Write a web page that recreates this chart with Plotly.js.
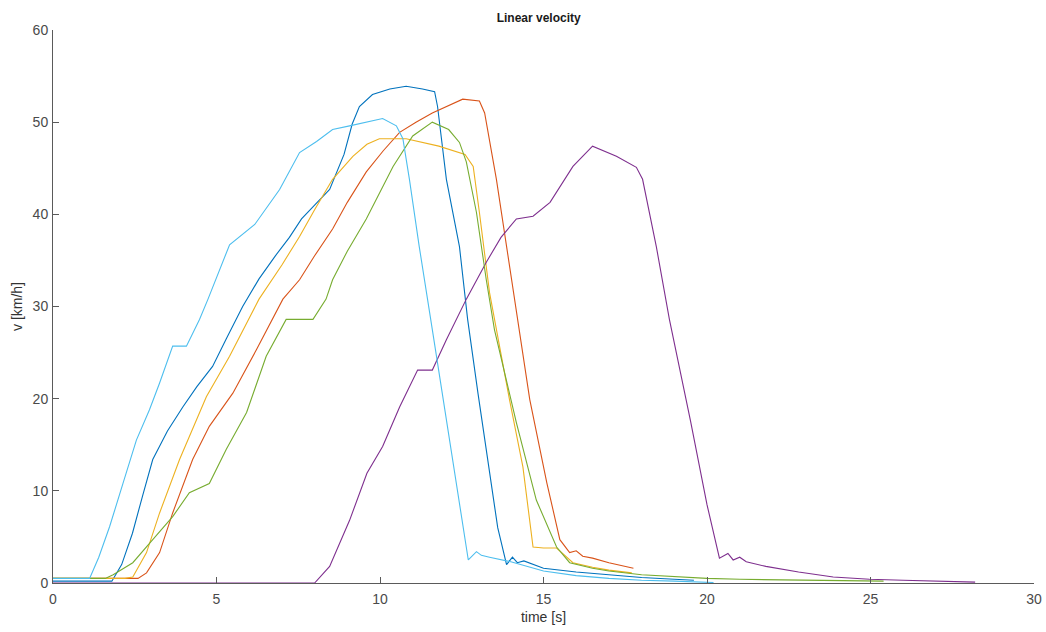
<!DOCTYPE html>
<html><head><meta charset="utf-8">
<script src="https://cdn.plot.ly/plotly-3.0.1.min.js"></script>
<style>html,body{margin:0;padding:0;background:#fff}#chart{width:1046px;height:632px}</style>
</head><body><div id="chart"></div>
<script>
// Series 1 (blue)
const t1 = [0,1.8,2.1,2.43,2.75,3.05,3.5,3.97,4.4,4.88,5.3,5.8,6.3,6.8,7.23,7.6,8.0,8.46,8.9,9.15,9.37,9.77,10.3,10.8,11.3,11.67,11.76,12.03,12.43,12.68,13.0,13.3,13.6,13.87,14.05,14.2,14.4,15,16,17,18,19,19.6];
const v1 = [0.2,0.2,2.0,5.4,9.6,13.4,16.5,19.1,21.3,23.5,26.5,30,33,35.5,37.5,39.5,41.0,42.7,46.5,49.8,51.7,53.0,53.6,53.9,53.6,53.3,51.7,43.8,36.5,28.6,20.5,13.0,6.0,2.0,2.8,2.2,2.4,1.6,1.2,0.9,0.6,0.4,0.3];
// Series 2 (orange)
const t2 = [0,2.6,2.86,3.26,3.66,4.27,4.78,5.5,6.22,7.03,7.54,8.0,8.55,9.0,9.58,10.1,10.6,11.1,11.6,12.1,12.53,13.04,13.2,13.56,13.87,14.17,14.58,15.1,15.5,15.8,16.0,16.2,16.5,17.0,17.4,17.75];
const v2 = [0.5,0.5,1.1,3.3,7.6,13.4,17.0,20.6,25.3,30.8,32.9,35.5,38.4,41.3,44.6,46.9,48.9,50.0,51.0,51.8,52.5,52.3,51.0,43.8,36.5,29.5,19.9,10.9,4.7,3.3,3.5,2.9,2.7,2.2,1.9,1.6];
// Series 3 (yellow)
const t3 = [0,2.2,2.44,2.86,3.26,3.87,4.69,5.4,6.3,7.0,7.54,8.0,8.55,9.17,9.6,9.98,10.8,11.8,12.6,12.85,13.04,13.35,13.96,14.37,14.68,15.0,15.4,15.9,16.5,17.0,17.7];
const v3 = [0.5,0.5,0.65,3.3,7.6,13.4,20.2,24.6,30.8,34.5,37.6,40.5,43.8,46.3,47.6,48.2,48.2,47.4,46.5,45.2,40.2,31.5,19.9,12.6,3.9,3.8,3.8,2.2,1.7,1.4,1.1];
// Series 4 (purple)
const t4 = [0,8.0,8.46,9.07,9.6,10.08,10.6,11.15,11.6,12.03,12.64,13.25,13.7,14.17,14.68,15.2,15.9,16.5,17.23,17.84,18.03,18.45,18.85,19.5,20.0,20.38,20.64,20.8,21.0,21.2,21.8,22.8,23.86,24.97,26.0,26.9,28.2];
const v4 = [0,0,1.8,6.8,11.9,14.8,19.1,23.1,23.1,26.4,30.8,34.8,37.5,39.5,39.8,41.3,45.2,47.4,46.3,45.1,43.8,36.5,28.6,17.5,8.5,2.7,3.2,2.5,2.8,2.3,1.8,1.2,0.65,0.4,0.3,0.2,0.1];
// Series 5 (green)
const t5 = [0,1.6,1.84,2.44,3.05,3.66,4.17,4.78,5.3,5.92,6.52,7.13,7.95,8.35,8.55,9.0,9.58,10.0,10.4,11.0,11.6,12.1,12.43,12.64,12.95,13.25,13.5,14.17,14.78,15.4,15.8,16.5,17,18,19,20,21,22,23,24,25.4];
const v5 = [0.5,0.5,0.9,2.2,4.7,7.2,9.8,10.8,14.5,18.5,24.6,28.6,28.6,30.8,32.9,36.0,39.5,42.5,45.2,48.5,50.0,49.2,47.8,45.7,40.2,32.9,27.5,17.4,9.0,3.9,2.2,1.6,1.3,0.9,0.7,0.5,0.4,0.35,0.3,0.25,0.2];
// Series 6 (light blue)
const t6 = [0,1.12,1.4,1.73,2.14,2.55,2.95,3.26,3.66,4.08,4.48,4.74,5.4,6.17,6.93,7.54,8.06,8.55,9.07,9.6,10.08,10.5,10.7,10.9,11.2,11.6,12.0,12.4,12.7,12.95,13.1,13.35,13.6,14.0,15,16,17,18,19,20.2];
const v6 = [0.5,0.5,2.8,6.1,10.8,15.5,18.8,21.7,25.7,25.7,28.6,30.8,36.7,38.9,42.7,46.7,47.9,49.2,49.6,50.0,50.4,49.6,48.2,43.8,36.5,27.5,18.5,9.5,2.5,3.4,3.0,2.8,2.6,2.3,1.3,0.8,0.5,0.3,0.2,0.05];

const colors = ['#0072BD','#D95319','#EDB120','#7E2F8E','#77AC30','#4DBEEE'];
const T = [t1,t2,t3,t4,t5,t6], V = [v1,v2,v3,v4,v5,v6];
const data = T.map((t,i)=>({x:t,y:V[i],type:'scatter',mode:'lines',line:{color:colors[i],width:1.1},hoverinfo:'none'}));

const fam = 'Liberation Sans, Arial, sans-serif';
const axisCommon = {showline:true,linecolor:'#5a5a5a',linewidth:1,ticks:'inside',ticklen:6,tickcolor:'#5a5a5a',
  showgrid:false,zeroline:false,tickfont:{family:fam,size:14,color:'#4a4a4a'}};
const layout = {
  width:1046,height:632,paper_bgcolor:'#fff',plot_bgcolor:'#fff',showlegend:false,
  margin:{l:53,r:12,t:30,b:49},
  title:{text:'<b>Linear velocity</b>',x:0.515,xanchor:'center',y:0.972,yanchor:'middle',font:{family:fam,size:12,color:'#1a1a1a'}},
  xaxis:Object.assign({},axisCommon,{range:[0,30],tickvals:[0,5,10,15,20,25,30],ticklabelstandoff:3,title:{text:'time [s]',standoff:6,font:{family:fam,size:14,color:'#333'}}}),
  yaxis:Object.assign({},axisCommon,{range:[0,60],tickvals:[0,10,20,30,40,50,60],ticklabelstandoff:1,title:{text:'v [km/h]',standoff:6,font:{family:fam,size:14,color:'#333'}}})
};
Plotly.newPlot('chart',data,layout,{displayModeBar:false,staticPlot:true});
</script></body></html>
